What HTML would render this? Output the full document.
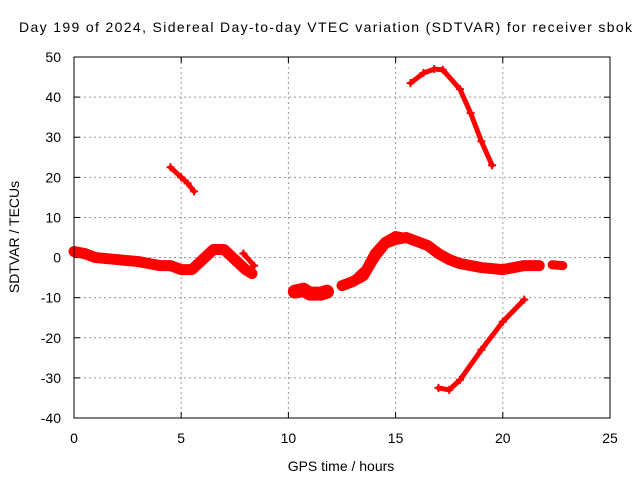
<!DOCTYPE html>
<html><head><meta charset="utf-8"><style>
body{margin:0;background:#fff;}
svg{display:block;font-family:"Liberation Sans",sans-serif;}
</style></head><body>
<svg id="chart" width="640" height="480">
<text x="19" y="32" font-size="14" textLength="613" lengthAdjust="spacing">Day 199 of 2024, Sidereal Day-to-day VTEC variation (SDTVAR) for receiver sbok</text>
<text x="341" y="471" text-anchor="middle" font-size="14">GPS time / hours</text>
<text transform="translate(19,237) rotate(-90)" text-anchor="middle" font-size="14">SDTVAR / TECUs</text>
<g id="grid"></g>
<g id="ticks"></g>
<g id="series"></g>
<rect x="74" y="57" width="536" height="361" fill="none" stroke="#000" stroke-width="1"/>
</svg>
<script>
const xTicks=[0,5,10,15,20,25];
const yTicks=[50,40,30,20,10,0,-10,-20,-30,-40];
const segAx=[0,0.5,1,2,3,4,4.5,5,5.5,6,6.5,7,7.5,8,8.3];
const segAy=[1.5,1,0,-0.5,-1,-2,-2,-3,-3,-0.5,2,2,-0.5,-3,-4];
const segBx=[7.9,8.4];const segBy=[1,-2];
const segCx=[4.5,5,5.3,5.6];const segCy=[22.5,20,18.5,16.5];
const segDx=[10.3,10.7,11,11.5,11.8];const segDy=[-8.5,-8,-9,-9,-8.5];
const segEx=[12.5,13,13.5,14,14.5,15,15.5,16,16.5,17,17.5,18,19,20,21,21.7];
const segEy=[-7,-6,-4.5,0,3.5,4.5,5,4,3,1,-0.5,-1.5,-2.5,-3,-2,-2];
const segE2x=[13.2,13.6,14,14.5,15,15.5];const segE2y=[-5,-3,1,4,5.5,5];
const segFx=[22.3,22.8];const segFy=[-1.8,-2];
const segGx=[15.7,16.3,16.8,17.2,18,18.5,19,19.5];const segGy=[43.5,46,47,46.8,42,36,29,23];
const segHx=[17,17.5,18,19,20,21];const segHy=[-32.5,-33,-30.5,-23,-16,-10.5];
const px=x=>74+x*536/25, py=y=>57+(50-y)*361/90;
const NS='http://www.w3.org/2000/svg';
const grid=document.getElementById('grid'),ticks=document.getElementById('ticks'),ser=document.getElementById('series');
function mk(t,a,p){const e=document.createElementNS(NS,t);for(const k in a)e.setAttribute(k,a[k]);p.appendChild(e);return e;}
xTicks.forEach(v=>{const x=px(v);
 if(v>0&&v<25){const g=mk('line',{x1:x,x2:x,y1:57,y2:418,stroke:'#999','stroke-dasharray':'2,3'},grid);
 
 }
 mk('line',{x1:x,x2:x,y1:418,y2:412,stroke:'#000'},ticks);mk('line',{x1:x,x2:x,y1:57,y2:63,stroke:'#000'},ticks);
 const t=mk('text',{x:x,y:443,'text-anchor':'middle','font-size':14},ticks);t.textContent=v;
 
 });
yTicks.forEach(v=>{const y=py(v);
 if(v>-40&&v<50){const g=mk('line',{x1:74,x2:610,y1:y,y2:y,stroke:'#999','stroke-dasharray':'2,3'},grid);
 
 }
 mk('line',{x1:74,x2:80,y1:y,y2:y,stroke:'#000'},ticks);mk('line',{x1:604,x2:610,y1:y,y2:y,stroke:'#000'},ticks);
 const t=mk('text',{x:61,y:y+5,'text-anchor':'end','font-size':14},ticks);t.textContent=v;
 
 });
function seg(xs,ys,w,name){const pts=xs.map((x,i)=>px(x)+','+py(ys[i])).join(' ');
 const l=mk('polyline',{points:pts,fill:'none',stroke:'#f00','stroke-width':w,'stroke-linejoin':'round','stroke-linecap':'round'},ser);
 
 
 xs.forEach((x,i)=>{const cx=px(x),cy=py(ys[i]);
  const m=mk('path',{d:`M${cx-4},${cy}h8M${cx},${cy-4}v8`,stroke:'#f00','stroke-width':2},ser);
  
  });}
seg(segAx,segAy,11,'series-a');seg(segBx,segBy,5,'series-b');seg(segCx,segCy,5,'series-c');
seg(segDx,segDy,14,'series-d');seg(segEx,segEy,11,'series-e');seg(segE2x,segE2y,9,'series-e2');seg(segFx,segFy,9,'series-f');
seg(segGx,segGy,5,'series-g');seg(segHx,segHy,5,'series-h');
</script>
</body></html>
